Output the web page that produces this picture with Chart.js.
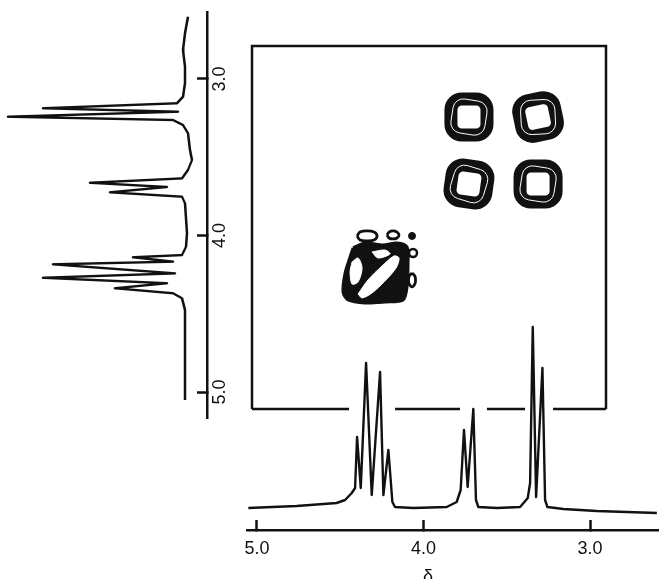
<!DOCTYPE html>
<html>
<head>
<meta charset="utf-8">
<script src="https://cdn.jsdelivr.net/npm/chart.js@4"></script>
<style>
  html, body { margin: 0; padding: 0; background: #fff; overflow: hidden; }
  body { width: 659px; height: 579px; position: relative; }
  canvas { position: absolute; }
  #map { left: 242px; top: 36px; }
  /* the left trace is drawn like the bottom one, then turned a quarter turn */
  #side { left: 0; top: 428px; transform-origin: 0 0; transform: rotate(-90deg); }
  #bottom { left: 217px; top: 300px; }
</style>
</head>
<body>
<canvas id="map" width="374" height="383"></canvas>
<canvas id="side" width="426" height="247"></canvas>
<canvas id="bottom" width="452" height="300"></canvas>
<script>
const INK = '#111';
Chart.defaults.font.family = '"Liberation Sans", Arial, sans-serif';
Chart.defaults.font.size = 18;
Chart.defaults.color = INK;

// tick labels of both shift axes (ppm)
const xTicks = [5.0, 4.0, 3.0];
const yTicks = [3.0, 4.0, 5.0];

// bottom 1D trace: shift (ppm) and height (arbitrary units)
const hShift = [5.052, 4.762, 4.522, 4.471, 4.431, 4.411, 4.399, 4.377, 4.345, 4.311, 4.261, 4.241,
  4.211, 4.187, 4.171, 4.061, 3.861, 3.801, 3.777, 3.757, 3.735, 3.701, 3.685, 3.671,
  3.560, 3.420, 3.374, 3.360, 3.344, 3.324, 3.286, 3.270, 3.256, 3.160, 2.960, 2.599];
const hInt = [22, 24, 27, 30, 37, 42, 93, 42, 167, 35, 158, 35,
  80, 28, 23, 22, 23, 28, 40, 100, 43, 121, 30, 23,
  22, 23, 32, 47, 203, 33, 162, 30, 23, 21, 19, 17];

// left 1D trace
const vShift = [2.602, 2.708, 2.815, 2.921, 3.027, 3.113, 3.155, 3.187, 3.209, 3.241, 3.262, 3.294,
  3.347, 3.454, 3.518, 3.581, 3.635, 3.663, 3.690, 3.724, 3.752, 3.794, 3.986, 4.072,
  4.125, 4.139, 4.167, 4.184, 4.242, 4.270, 4.305, 4.337, 4.369, 4.401, 4.476, 4.623, 5.051];
const vInt = [19, 22, 24, 22, 22, 24, 30, 164, 29, 199, 34, 24,
  19, 17, 15, 19, 25, 117, 40, 97, 25, 22, 20, 21,
  25, 74, 34, 154, 32, 164, 40, 92, 34, 25, 22, 22, 22];

// cross peaks of the contour map (x shift, y shift, tilt in degrees)
const crossX = [3.727, 3.312, 3.727, 3.312];
const crossY = [3.243, 3.243, 3.671, 3.671];
const crossTilt = [0, -12, 8, 0];

// diagonal peak: outline, white holes inside it, small satellite contours
const diagOuter = [[4.423, 4.080], [4.351, 4.048], [4.243, 4.061], [4.159, 4.048], [4.099, 4.073],
  [4.093, 4.176], [4.099, 4.329], [4.123, 4.412], [4.231, 4.425], [4.351, 4.431],
  [4.453, 4.412], [4.483, 4.361], [4.471, 4.240], [4.441, 4.137]];
const diagHoles = [
  [[4.393, 4.374], [4.333, 4.284], [4.249, 4.195], [4.177, 4.131], [4.147, 4.144],
   [4.165, 4.208], [4.237, 4.297], [4.309, 4.367], [4.369, 4.399]],
  [[4.429, 4.169], [4.393, 4.144], [4.369, 4.208], [4.393, 4.297], [4.429, 4.310], [4.441, 4.233]],
  [[4.309, 4.105], [4.231, 4.093], [4.201, 4.118], [4.273, 4.144]]
];
const diagRings = [
  [[4.399, 4.003], [4.381, 3.978], [4.339, 3.971], [4.297, 3.978], [4.279, 4.003],
   [4.297, 4.029], [4.339, 4.035], [4.381, 4.029]],
  [[4.219, 3.997], [4.207, 3.978], [4.183, 3.971], [4.159, 3.978], [4.147, 3.997],
   [4.159, 4.016], [4.183, 4.022], [4.207, 4.016]],
  [[4.069, 4.240], [4.052, 4.259], [4.048, 4.284], [4.052, 4.310], [4.069, 4.329],
   [4.086, 4.310], [4.090, 4.284], [4.086, 4.259]]
];
const diagDots = [[4.069, 4.003], [4.063, 4.112]];

// the lower edge of the box is broken where the tall peaks pass (ppm)
const boxGaps = [[4.447, 4.171], [3.781, 3.619], [3.390, 3.222]];

function shiftAxis(min, max, ticks, pad, height, title) {
  return {
    type: 'linear', min, max, reverse: true,
    afterBuildTicks: s => { s.ticks = ticks.map(v => ({ value: v })); },
    afterFit: s => { s.height = height; },
    border: { color: INK, width: 2.5 },
    grid: { drawOnChartArea: false, tickLength: -10, tickColor: INK, tickWidth: 2.5 },
    ticks: { padding: pad, autoSkip: false, maxRotation: 0, callback: v => v.toFixed(1) },
    title: title
      ? { display: true, text: title, padding: { top: 0, bottom: 12 } }
      : { display: false }
  };
}

function trace(xs, ys) {
  return {
    data: xs.map((x, i) => ({ x, y: ys[i] })),
    showLine: true, borderColor: INK, borderWidth: 2.4, pointRadius: 0,
    tension: 0, borderJoinStyle: 'round'
  };
}

const common = {
  responsive: false,
  animation: false,
  events: [],
  plugins: { legend: { display: false }, tooltip: { enabled: false } }
};

// bottom trace
new Chart(document.getElementById('bottom'), {
  type: 'scatter',
  data: { datasets: [trace(hShift, hInt)] },
  options: {
    ...common,
    layout: { autoPadding: false, padding: { left: 30, right: 10, top: 20, bottom: 0 } },
    scales: {
      x: shiftAxis(2.586, 5.060, xTicks, 18, 70, 'δ' + '\u00a0'.repeat(10)),
      y: { display: false, min: 0, max: 210 }
    }
  }
});

// left trace (rotated by css)
new Chart(document.getElementById('side'), {
  type: 'scatter',
  data: { datasets: [trace(vShift, vInt)] },
  options: {
    ...common,
    layout: { autoPadding: false, padding: { left: 10, right: 10, top: 0, bottom: 0 } },
    scales: {
      x: shiftAxis(2.572, 5.166, yTicks, 12, 40),
      y: { display: false, min: 0, max: 207 }
    }
  }
});

// contour map
const boxFrame = {
  id: 'boxFrame',
  afterDatasetsDraw(chart) {
    const { ctx, chartArea: a, scales: { x } } = chart;
    ctx.save();
    ctx.strokeStyle = INK;
    ctx.lineWidth = 2.5;
    ctx.beginPath();
    ctx.moveTo(a.left, a.bottom);
    ctx.lineTo(a.left, a.top);
    ctx.lineTo(a.right, a.top);
    ctx.lineTo(a.right, a.bottom);
    ctx.moveTo(a.left, a.bottom);
    boxGaps.forEach(([hi, lo]) => {
      ctx.lineTo(x.getPixelForValue(hi), a.bottom);
      ctx.moveTo(x.getPixelForValue(lo), a.bottom);
    });
    ctx.lineTo(a.right, a.bottom);
    ctx.stroke();
    ctx.restore();
  }
};

const closed = pts => pts.concat([pts[0]]).map(([x, y]) => ({ x, y }));
const crossPts = crossX.map((x, i) => ({ x, y: crossY[i] }));

new Chart(document.getElementById('map'), {
  type: 'scatter',
  data: {
    datasets: [
      // thin white streaks between the stacked contours
      { data: crossPts, pointStyle: 'rectRounded', pointRadius: 20, pointBorderWidth: 1,
        pointBorderColor: '#fff', pointBackgroundColor: 'rgba(0,0,0,0)',
        pointRotation: crossTilt.map(t => t + 9), order: 0 },
      { data: crossPts, pointStyle: 'rectRounded', pointRadius: 21, pointBorderWidth: 13,
        pointBorderColor: INK, pointBackgroundColor: 'rgba(0,0,0,0)',
        pointRotation: crossTilt, order: 1 },
      { data: diagDots.map(([x, y]) => ({ x, y })), pointRadius: [3.5, 4], pointBorderWidth: [1, 2.5],
        pointBorderColor: INK, pointBackgroundColor: [INK, '#fff'], order: 2 },
      ...diagRings.map(r => ({ data: closed(r), showLine: true, pointRadius: 0, tension: 0.4,
        borderColor: INK, borderWidth: 2.8, order: 3 })),
      ...diagHoles.map(h => ({ data: closed(h), showLine: true, pointRadius: 0, tension: 0.3,
        borderColor: '#fff', borderWidth: 1, backgroundColor: '#fff', fill: 'shape', order: 4 })),
      { data: closed(diagOuter), showLine: true, pointRadius: 0, tension: 0.3,
        borderColor: INK, borderWidth: 3, backgroundColor: INK, fill: 'shape', order: 5 }
    ]
  },
  options: {
    ...common,
    layout: { autoPadding: false, padding: 10 },
    scales: {
      x: { type: 'linear', display: false, min: 2.904, max: 5.030, reverse: true },
      y: { type: 'linear', display: false, min: 2.789, max: 5.109, reverse: true }
    }
  },
  plugins: [boxFrame]
});
</script>
</body>
</html>
